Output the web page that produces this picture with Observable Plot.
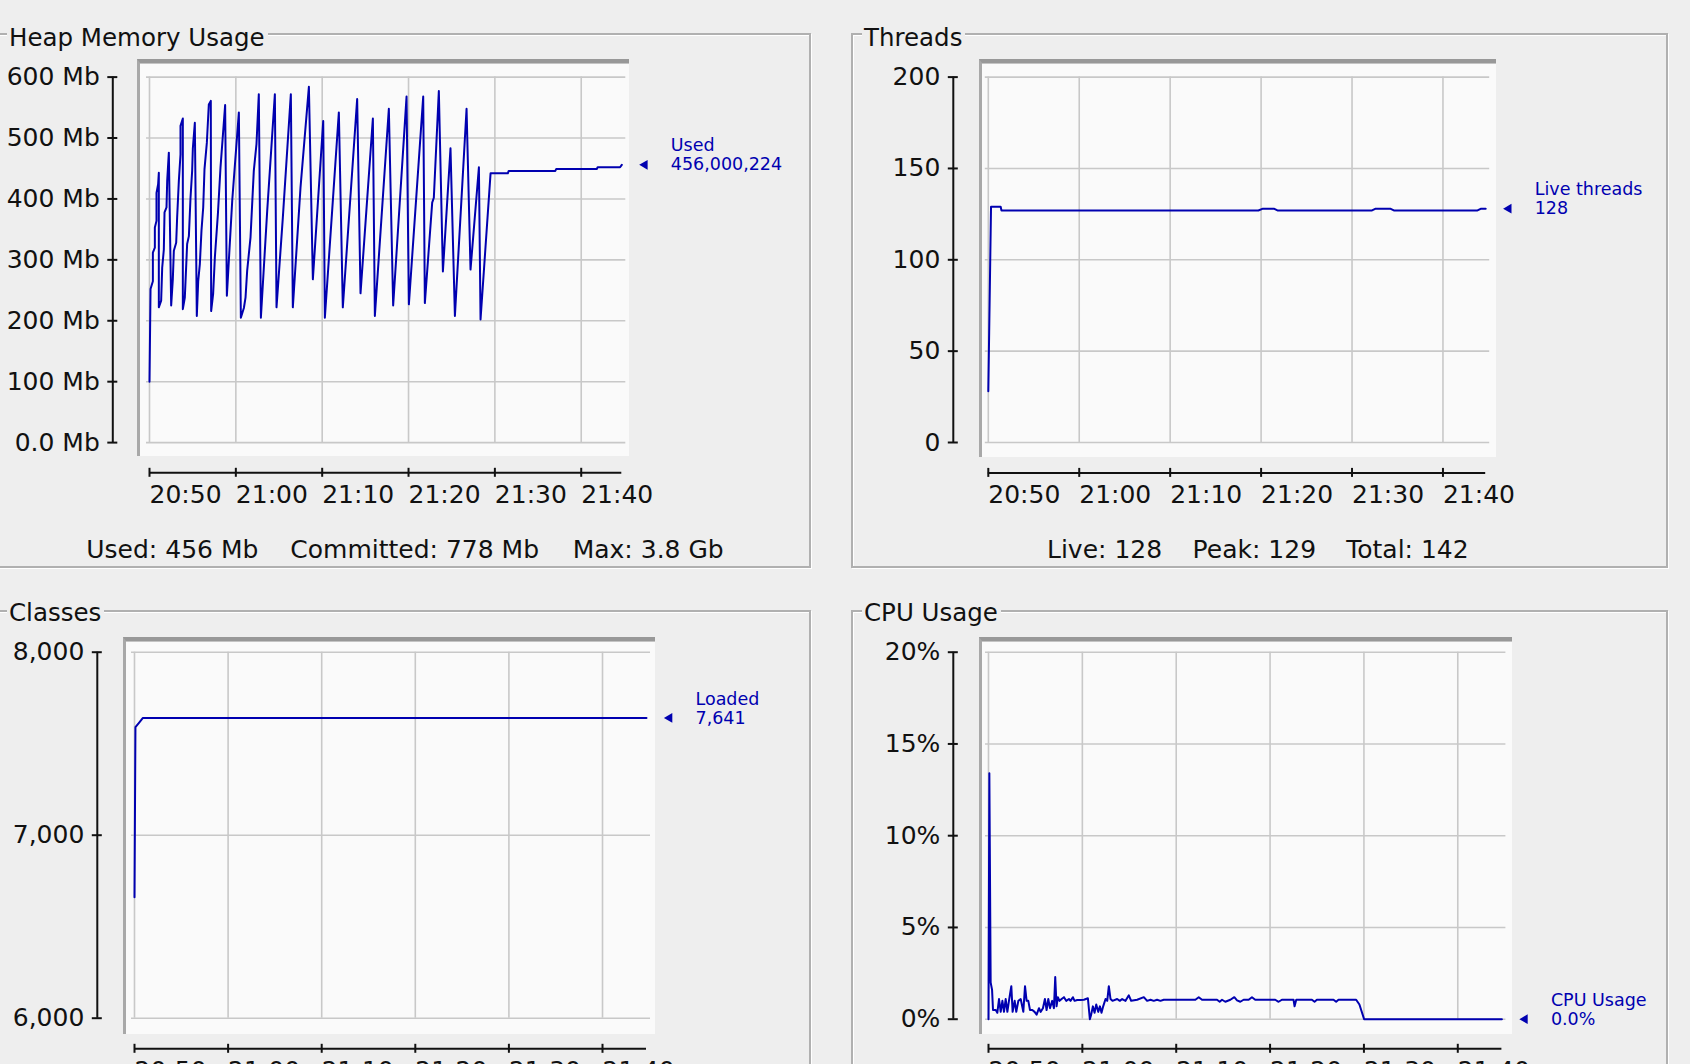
<!DOCTYPE html>
<html>
<head>
<meta charset="utf-8">
<script src="https://cdn.jsdelivr.net/npm/d3@7"></script>
<script src="https://cdn.jsdelivr.net/npm/@observablehq/plot@0.6"></script>
<style>
  html, body { margin: 0; padding: 0; background: #eeeeee; }
  #page { position: relative; width: 1690px; height: 1064px; overflow: hidden; background: #eeeeee; font-family: "DejaVu Sans", sans-serif; color: #111; }
  .box { position: absolute; box-sizing: border-box; border: 2px solid #b0b0b0; box-shadow: inset 1px 1px 0 #ffffff, 1px 1px 0 #ffffff; }
  .bevel { position: absolute; box-sizing: border-box; background: #fafafa; border-top: 4px solid #989898; border-left: 3px solid #a8a8a8; box-shadow: inset 0 1px 0 #c4c4c4; }
  .title { position: absolute; background: #eeeeee; padding: 0 3px 0 2px; font-size: 24.5px; line-height: 1; white-space: nowrap; }
  .info { position: absolute; font-size: 25px; line-height: 1; white-space: nowrap; }
  svg { position: absolute; }
</style>
</head>
<body>
<div id="page"></div>
<script>
// ---------------- data (minutes after 20:50, values) ----------------
const timeTickMinutes = [0, 10, 20, 30, 40, 50];   // 20:50 ... 21:40
const endMinute = 54.7;

const heapMinutes = [0, 0.12, 0.39, 0.39, 0.62, 0.62, 0.81, 0.81, 1.00, 1.08, 1.08, 1.35, 1.47, 1.66, 1.74, 1.97, 2.05, 2.24,
  2.51, 2.70, 2.82, 3.09, 3.20, 3.40, 3.59, 3.59, 3.86, 3.86, 4.09, 4.36, 4.56, 4.75, 4.94, 5.02, 5.25,
  5.48, 5.64, 5.83, 6.02, 6.22, 6.37, 6.64, 6.87, 7.10, 7.14, 7.37, 7.57, 7.92, 8.22, 8.76, 8.96, 9.58, 10.35,
  10.58, 10.93, 11.12, 11.31, 11.70, 12.08, 12.39, 12.66, 12.90, 13.63, 14.52, 14.71, 15.44, 16.37, 16.60, 17.49,
  18.46, 18.92, 20.12, 20.31, 21.93, 22.39, 24.05, 24.44, 25.87, 26.10, 27.72, 28.22, 29.77, 30.04, 31.70, 31.89,
  32.74, 32.93, 33.51, 33.98, 34.86, 35.37, 36.72, 37.18, 38.15, 38.34, 39.50, 41.5, 41.6, 47.0, 47.1, 51.8, 51.9, 54.5, 54.7];
const heapMb = [100, 252, 265, 312, 320, 353, 364, 410, 424, 443, 222, 233, 287, 317, 378, 386, 430, 476,
  225, 268, 315, 328, 369, 430, 473, 520, 532, 219, 238, 326, 339, 402, 446, 483, 525,
  208, 265, 293, 348, 386, 449, 492, 555, 561, 216, 244, 304, 375, 451, 554, 241, 397, 542,
  205, 221, 238, 282, 337, 446, 490, 572, 205, 380, 572, 222, 369, 572, 222, 419,
  584, 268, 528, 205, 542, 222, 564, 245, 532, 208, 548, 225, 568, 227, 568, 229,
  394, 402, 577, 281, 483, 208, 548, 284, 452, 202, 442, 442, 446, 446, 449, 449, 452, 452, 456];
const heapTicks = [0, 100, 200, 300, 400, 500, 600];

const threadMinutes = [0, 0.3, 1.36, 1.45, 29.7, 30.2, 31.4, 31.8, 42.2, 42.6, 44.2, 44.6, 53.8, 54.2, 54.7];
const threadCount = [28, 129, 129, 127, 127, 128, 128, 127, 127, 128, 128, 127, 127, 128, 128];
const threadTicks = [0, 50, 100, 150, 200];

const classMinutes = [0, 0.1, 0.5, 0.9, 54.7];
const classLoaded = [6661, 7590, 7615, 7641, 7641];
const classTicks = [6000, 7000, 8000];

const cpuMinutes = [0, 0.09, 0.23, 0.38, 0.48, 0.77, 0.94, 1.12, 1.30, 1.48, 1.65, 1.83, 2.01, 2.18, 2.43, 2.57, 2.79, 2.96,
  3.18, 3.43, 3.71, 3.89, 4.06, 4.24, 4.42, 4.67, 4.91, 5.13, 5.38, 5.55, 5.80, 6.01, 6.19, 6.37, 6.55, 6.79, 6.97,
  7.11, 7.25, 7.39, 7.57, 7.79, 8.04, 8.28, 8.57, 8.74, 8.99, 9.17, 9.45, 9.81, 10.16, 10.59, 10.80, 10.94, 11.12,
  11.30, 11.48, 11.69, 11.87, 12.04, 12.22, 12.47, 12.65, 12.82, 13.00, 13.21, 13.71, 13.99, 14.24, 14.60, 14.95,
  15.20, 15.84, 16.55, 16.90, 17.26, 17.61, 17.96, 18.32, 18.67, 22.04, 22.40, 22.75, 24.35, 24.63, 24.88, 25.23,
  25.77, 26.19, 26.48, 26.83, 27.18, 27.72, 28.07, 28.42, 30.55, 30.91, 31.26, 32.50, 32.61, 32.79, 34.46, 34.74,
  34.99, 36.76, 37.04, 37.29, 39.17, 39.52, 40.02, 54.7];
const cpuPercent = [0, 13.4, 2.0, 1.6, 0.5, 0.5, 0.35, 1.1, 0.4, 1.0, 0.4, 1.1, 0.4, 1.0, 1.8, 0.4, 1.0, 0.4,
  1.0, 1.1, 0.4, 1.8, 1.0, 1.0, 0.5, 0.5, 0.4, 0.25, 0.6, 0.4, 0.6, 1.1, 0.5, 1.1, 0.6, 1.0, 0.6,
  2.3, 0.7, 1.2, 1.0, 1.1, 1.2, 1.0, 1.1, 1.0, 1.2, 1.0, 1.05, 1.05, 1.06, 1.14, 0, 0.25, 0.7,
  0.35, 0.8, 0.4, 0.7, 0.35, 0.7, 1.1, 1.0, 1.8, 1.1, 1.0, 1.1, 1.0, 1.1, 1.0, 1.3,
  1.0, 1.06, 1.2, 1.0, 1.06, 1.0, 1.06, 1.0, 1.06, 1.06, 1.2, 1.06, 1.06, 0.95, 1.06, 0.95,
  1.06, 1.2, 1.03, 0.95, 1.06, 1.06, 1.2, 1.06, 1.06, 0.95, 1.06, 1.06, 0.7, 1.06, 1.06, 0.95,
  1.06, 1.06, 0.95, 1.06, 1.06, 0.8, 0, 0];
const cpuTicks = [0, 5, 10, 15, 20];

const panelTitles = ["Heap Memory Usage", "Threads", "Classes", "CPU Usage"];
const legendLabels = ["Used", "Live threads", "Loaded", "CPU Usage"];
const legendValues = ["456,000,224", "128", "7,641", "0.0%"];
const heapInfo = ["Used: 456 Mb", "Committed: 778 Mb", "Max: 3.8 Gb"];
const threadInfo = ["Live: 128", "Peak: 129", "Total: 142"];

// ---------------- drawing ----------------
const BLUE = "#0000b0";
const T0 = Date.UTC(2024, 0, 1, 20, 50);
const toDate = m => new Date(T0 + m * 60000);
const timeTicks = timeTickMinutes.map(toDate);
const page = document.getElementById("page");

function addDiv(cls, css, text) {
  const d = document.createElement("div");
  d.className = cls;
  Object.assign(d.style, css);
  if (text != null) d.textContent = text;
  page.appendChild(d);
  return d;
}

function panel(cfg) {
  const data = cfg.minutes.map((m, i) => ({t: toDate(m), v: cfg.values[i]}));
  const last = data[data.length - 1];
  const [y0, y1] = cfg.yDomain;
  const tickDx = (cfg.yAxisX + 5) - cfg.xL;
  const lineDx = cfg.yAxisX - cfg.xL;
  const xdy = cfg.xAxisY - cfg.yB;
  const svgW = 845, svgH = cfg.svgTop === 0 ? 580 : 484;
  const chart = Plot.plot({
    width: svgW,
    height: svgH,
    marginLeft: cfg.xL - cfg.svgLeft,
    marginRight: cfg.svgLeft + svgW - cfg.xR,
    marginTop: cfg.yT - cfg.svgTop,
    marginBottom: cfg.svgTop + svgH - cfg.yB,
    x: {type: "utc", domain: [toDate(0), toDate(endMinute)]},
    y: {domain: cfg.yDomain},
    style: {fontFamily: "DejaVu Sans", fontSize: "25px", background: "transparent", overflow: "visible", color: "#111"},
    marks: [
      Plot.ruleY(cfg.yTicks, {stroke: "#c8c8c8", strokeWidth: 1.6, insetLeft: -3, insetRight: -4}),
      Plot.ruleX(timeTicks, {y1: y0, y2: y1, stroke: "#c8c8c8", strokeWidth: 1.6}),
      Plot.line(data, {x: "t", y: "v", stroke: BLUE, strokeWidth: 2}),
      // y axis
      Plot.ruleX([toDate(0)], {y1: y0, y2: y1, dx: lineDx, stroke: "#111", strokeWidth: 2}),
      Plot.axisY({ticks: cfg.yTicks, tickFormat: cfg.yFormat, tickSize: 10, tickPadding: 8, dx: tickDx,
        stroke: "#111", strokeWidth: 2, fill: "#111", label: null}),
      // x axis
      Plot.ruleY([y0], {x1: toDate(0), x2: toDate(endMinute), dy: xdy, stroke: "#111", strokeWidth: 2}),
      Plot.axisX({ticks: timeTicks, tickFormat: d3.utcFormat("%H:%M"), tickSize: 9, tickPadding: 8, dy: xdy - 4.5,
        textAnchor: "start", stroke: "#111", strokeWidth: 2, fill: "#111", label: null}),
      // legend at the last value
      Plot.dot([last], {x: "t", y: "v", symbol: "triangle", rotate: -90, r: 3.6, fill: BLUE, stroke: null, dx: 23}),
      Plot.text([last], {x: "t", y: "v", text: () => cfg.valueText, dx: 49, textAnchor: "start", fill: BLUE, fontSize: 17.5}),
      Plot.text([last], {x: "t", y: "v", text: () => cfg.label, dx: 49, dy: -19, textAnchor: "start", fill: BLUE, fontSize: 17.5})
    ]
  });
  chart.style.left = cfg.svgLeft + "px";
  chart.style.top = cfg.svgTop + "px";
  page.appendChild(chart);
}

// group boxes
addDiv("box", {left: "-3px", top: "33px", width: "814px", height: "535px"});
addDiv("box", {left: "851px", top: "33px", width: "817px", height: "535px"});
addDiv("box", {left: "-3px", top: "609.5px", width: "814px", height: "600px"});
addDiv("box", {left: "851px", top: "609.5px", width: "817px", height: "600px"});

// plot backgrounds
addDiv("bevel", {left: "137px", top: "59px", width: "492px", height: "397px"});
addDiv("bevel", {left: "978.5px", top: "59px", width: "517px", height: "398px"});
addDiv("bevel", {left: "123px", top: "636.5px", width: "532px", height: "397px"});
addDiv("bevel", {left: "978.5px", top: "636.5px", width: "533px", height: "397px"});

const fmtMb = d => d === 0 ? "0.0 Mb" : d + " Mb";
panel({svgLeft: 0, svgTop: 0, xL: 149, xR: 621.3, yT: 76.6, yB: 442.1, yAxisX: 112.3, xAxisY: 472.3,
  yDomain: [0, 600], yTicks: heapTicks, yFormat: fmtMb, minutes: heapMinutes, values: heapMb,
  label: legendLabels[0], valueText: legendValues[0]});
panel({svgLeft: 845, svgTop: 0, xL: 987.8, xR: 1485.2, yT: 76.6, yB: 442, yAxisX: 952.8, xAxisY: 472.4,
  yDomain: [0, 200], yTicks: threadTicks, yFormat: d => String(d), minutes: threadMinutes, values: threadCount,
  label: legendLabels[1], valueText: legendValues[1]});
panel({svgLeft: 0, svgTop: 580, xL: 134, xR: 646, yT: 651.7, yB: 1017.7, yAxisX: 96.8, xAxisY: 1048.3,
  yDomain: [6000, 8000], yTicks: classTicks, yFormat: d3.format(","), minutes: classMinutes, values: classLoaded,
  label: legendLabels[2], valueText: legendValues[2]});
panel({svgLeft: 845, svgTop: 580, xL: 988, xR: 1501.4, yT: 651.7, yB: 1018.7, yAxisX: 952.8, xAxisY: 1048.3,
  yDomain: [0, 20], yTicks: cpuTicks, yFormat: d => d + "%", minutes: cpuMinutes, values: cpuPercent,
  label: legendLabels[3], valueText: legendValues[3]});

// titles
addDiv("title", {left: "7px", top: "25.5px"}, panelTitles[0]);
addDiv("title", {left: "862px", top: "25.5px"}, panelTitles[1]);
addDiv("title", {left: "7px", top: "601px"}, panelTitles[2]);
addDiv("title", {left: "862px", top: "601px"}, panelTitles[3]);

// summary lines
[86.3, 290.3, 572.7].forEach((x, i) => addDiv("info", {left: x + "px", top: "536.6px"}, heapInfo[i]));
[1047, 1192.6, 1346.2].forEach((x, i) => addDiv("info", {left: x + "px", top: "536.6px"}, threadInfo[i]));
</script>
</body>
</html>
